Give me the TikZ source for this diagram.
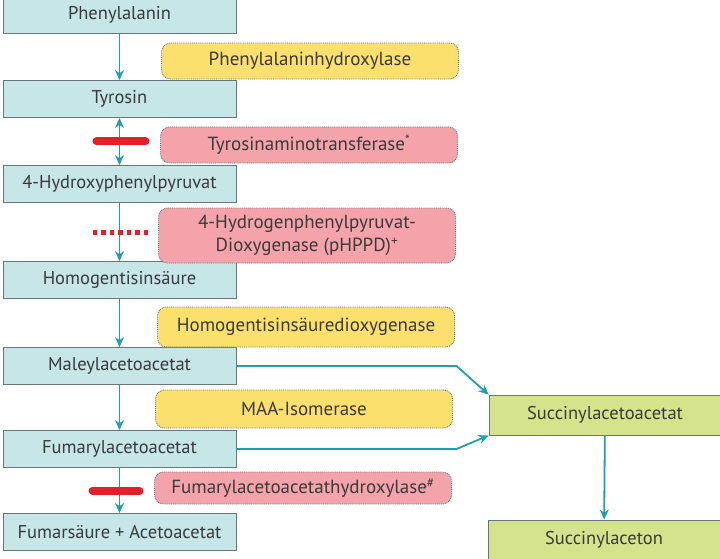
\documentclass[tikz,border=0pt]{standalone}
\usepackage{fontspec}
\setmainfont{PT Sans}
\usepackage{tikz}
\usetikzlibrary{calc, positioning, arrows.meta}

\definecolor{cyanfill}{HTML}{C6E6E8}
\definecolor{greenfill}{HTML}{D5E38C}
\definecolor{yellowfill}{HTML}{FCE06E}
\definecolor{pinkfill}{HTML}{F4A3AB}
\definecolor{boxline}{HTML}{66787A}
\definecolor{flowteal}{HTML}{1E9DB3}
\definecolor{blockred}{HTML}{E3202A}
\definecolor{textgray}{HTML}{3A3A3A}

\tikzset{
  substrate/.style={draw=boxline, fill=cyanfill, line width=0.9pt, minimum width=233pt,
    minimum height=37pt, inner sep=0pt, text=textgray, font=\fontsize{18.5}{21}\selectfont},
  product/.style={substrate, fill=greenfill, minimum width=232pt, minimum height=40pt},
  enzyme/.style={draw=boxline, densely dotted, line width=0.9pt, rounded corners=9pt,
    minimum width=297pt, inner sep=0pt, text=textgray, align=center,
    font=\fontsize{19}{23}\selectfont},
  flow/.style={-{Stealth[length=10pt,width=9pt]}, line width=1.8pt, draw=flowteal},
  block/.style={line width=8pt, line cap=round, draw=blockred},
}

\begin{document}
\begin{tikzpicture}[x=1pt, y=-1pt]
  \useasboundingbox (0,0) rectangle (720,559);

  % left column
  \node[substrate] (phe) at (119.5,15) {Phenylalanin};
  \node[substrate] (tyr) at (119.5,99) {Tyrosin};
  \node[substrate] (hpp) at (119.5,184) {4-Hydroxyphenylpyruvat};
  \node[substrate] (hga) at (119.5,280) {Homogentisinsäure};
  \node[substrate] (maa) at (119.5,366) {Maleylacetoacetat};
  \node[substrate] (faa) at (119.5,449) {Fumarylacetoacetat};
  \node[substrate] (fum) at (119.5,532) {Fumarsäure + Acetoacetat};

  % enzymes
  \node[enzyme, fill=yellowfill, minimum height=36pt] (pah) at (310,61) {Phenylalaninhydroxylase};
  \node[enzyme, fill=pinkfill, minimum height=36pt] (tat) at (309,145) {Tyrosinaminotransferase\textsuperscript{*}};
  \node[enzyme, fill=pinkfill, minimum height=55pt] (hppd) at (307,235.5) {4-Hydrogenphenylpyruvat-\\Dioxygenase (pHPPD)\textsuperscript{+}};
  \node[enzyme, fill=yellowfill, minimum height=40pt] (hgd) at (306,327) {Homogentisinsäuredioxygenase};
  \node[enzyme, fill=yellowfill, minimum height=38pt] (mai) at (304,409) {MAA-Isomerase};
  \node[enzyme, fill=pinkfill, minimum height=32pt] (fah) at (303,488) {Fumarylacetoacetathydroxylase\textsuperscript{\#}};

  % right column
  \node[product] (sac) at (605,415) {Succinylacetoacetat};
  \node[product] (son) at (604,540) {Succinylaceton};

  % arrows
  \draw[flow] (phe) -- (tyr);
  \draw[flow, {Stealth[length=10pt,width=9pt]}-{Stealth[length=10pt,width=9pt]}] (tyr) -- (hpp);
  \draw[flow] (hpp) -- (hga);
  \draw[flow] (hga) -- (maa);
  \draw[flow] (maa) -- (faa);
  \draw[flow] (faa) -- (fum);
  \draw[flow] (sac) -- (son);
  \draw[flow] (maa.east) -- ([xshift=-32pt]maa.east -| sac.west) -- (sac.north west);
  \draw[flow] (faa.east) -- ([xshift=-32pt]faa.east -| sac.west) -- (sac.south west);

  % blocks
  \coordinate (tatblock) at ($(tyr.south)!0.5!(hpp.north)$);
  \coordinate (hppdblock) at ($(hpp.south)!0.5!(hga.north)$);
  \coordinate (fahblock) at ($(faa.south)!0.5!(fum.north)$);
  \draw[block] ([xshift=-23pt]tatblock) -- ([xshift=26pt]tatblock);
  \draw[blockred, line width=5pt, dash pattern=on 4.5pt off 4pt] ([xshift=-27pt]hppdblock) -- ([xshift=31pt]hppdblock);
  \draw[block] ([xshift=-27pt]fahblock) -- ([xshift=20pt]fahblock);
\end{tikzpicture}
\end{document}
